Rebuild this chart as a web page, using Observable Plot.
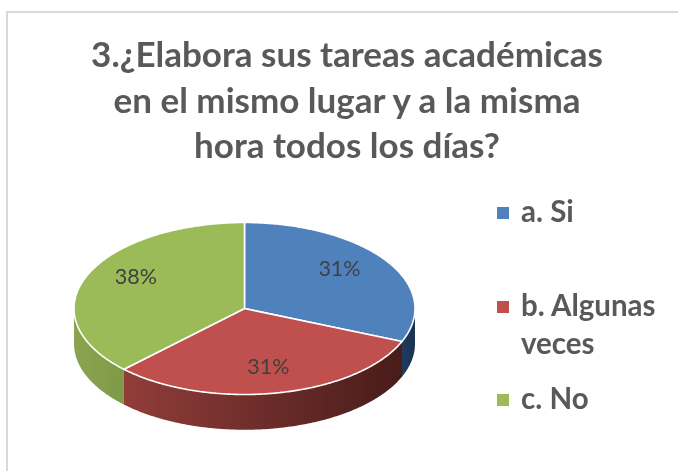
<!DOCTYPE html>
<html>
<head>
<meta charset="utf-8">
<script src="https://cdn.jsdelivr.net/npm/d3@7"></script>
<script src="https://cdn.jsdelivr.net/npm/@observablehq/plot@0.6"></script>
<style>
html,body{margin:0;padding:0;background:#fff}
#page{position:relative;width:678px;height:471px;overflow:hidden;font-family:Lato,sans-serif;color:#595959;filter:blur(0.5px)}
#frame{position:absolute;left:6px;top:11px;right:-10px;bottom:-10px;border-left:2px solid #d9d9d9;border-top:2px solid #d9d9d9}
#chart{position:absolute;left:0;top:0}
#title{position:absolute;left:47px;top:31px;width:600px;text-align:center;font-weight:700;font-size:35px;line-height:45.5px;white-space:nowrap}
.leg{position:absolute;left:521px;width:155px;font-weight:700;font-size:29.5px;line-height:38px}
.sw{position:absolute;left:497px;width:12px;height:12px}
</style>
</head>
<body>
<div id="page">
<div id="frame"></div>
<div id="chart"></div>
<div id="title"></div>
</div>
<script>
const titleLines = ["3.¿Elabora sus tareas académicas", "en el mismo lugar y a la misma", "hora todos los días?"];
const categories = ["a. Si", "b. Algunas veces", "c. No"];
const values = [31.25, 31.25, 37.5];
const labels = ["31%", "31%", "38%"];
const colors = ["#4f81bd", "#c0504d", "#9bbb59"];
const wallStart = ["#1f3a5c", "#913d3a", "#8aa44f"];
const wallEnd = ["#1a3350", "#481c1a", "#7f9a47"];
const labelRadiusX = [0.67, 0.72, 0.69];
const labelRadiusY = [0.815, 0.70, 0.94];
const legendTops = [192, 286, 379];
const swatchTops = [207, 301, 394];

const W = 678, H = 471;
const depth = 0.41;
const total = d3.sum(values);
let acc = 0;
const slices = values.map((v, i) => {
  const a0 = acc / total * 2 * Math.PI;
  acc += v;
  return {i, a0, a1: acc / total * 2 * Math.PI};
});
const arc = (a0, a1) => {
  const n = Math.max(2, Math.ceil((a1 - a0) / 0.01));
  return d3.range(n + 1).map(k => a0 + (a1 - a0) * k / n);
};
const pt = (a, drop = 0) => ({x: Math.sin(a), y: Math.cos(a) - drop});

const defs = () => {
  const d = d3.create("svg:defs");
  colors.forEach((c, i) => {
    const g = d.append("linearGradient").attr("id", "wall" + i);
    g.append("stop").attr("offset", "0%").attr("stop-color", wallStart[i]);
    g.append("stop").attr("offset", "100%").attr("stop-color", wallEnd[i]);
  });
  return d.node();
};

const marks = [defs];
// side walls: the front half of the rim only
slices.forEach(s => {
  const lo = Math.max(s.a0, Math.PI / 2), hi = Math.min(s.a1, 3 * Math.PI / 2);
  if (hi <= lo) return;
  const rim = arc(lo, hi);
  const poly = [...rim.map(a => pt(a)), ...rim.slice().reverse().map(a => pt(a, depth))];
  poly.push(poly[0]);
  marks.push(Plot.line(poly, {x: "x", y: "y", fill: `url(#wall${s.i})`, stroke: "none"}));
});
// top faces
slices.forEach(s => {
  const poly = [{x: 0, y: 0}, ...arc(s.a0, s.a1).map(a => pt(a)), {x: 0, y: 0}];
  marks.push(Plot.line(poly, {x: "x", y: "y", fill: colors[s.i], stroke: "white", strokeWidth: 1.6, strokeLinejoin: "round"}));
});
// value labels
const labelData = slices.map(s => {
  const m = (s.a0 + s.a1) / 2;
  return {x: Math.sin(m) * labelRadiusX[s.i], y: Math.cos(m) * labelRadiusY[s.i], t: labels[s.i]};
});
marks.push(Plot.text(labelData, {x: "x", y: "y", text: "t", fill: "#404040", fontSize: 21.5, fontFamily: "Lato, sans-serif", stroke: "none"}));

const chart = Plot.plot({
  width: W, height: H,
  margin: 0,
  x: {domain: [-1, 1], range: [73.5, 414.5], axis: null},
  y: {domain: [-1, 1], range: [394, 222], axis: null},
  style: {background: "transparent"},
  marks
});
document.getElementById("chart").appendChild(chart);

document.getElementById("title").innerHTML = titleLines.join("<br>");
const page = document.getElementById("page");
categories.forEach((c, i) => {
  const t = document.createElement("div");
  t.className = "leg"; t.style.top = legendTops[i] + "px"; t.textContent = c;
  page.appendChild(t);
  const s = document.createElement("div");
  s.className = "sw"; s.style.top = swatchTops[i] + "px"; s.style.background = colors[i];
  page.appendChild(s);
});
</script>
</body>
</html>
